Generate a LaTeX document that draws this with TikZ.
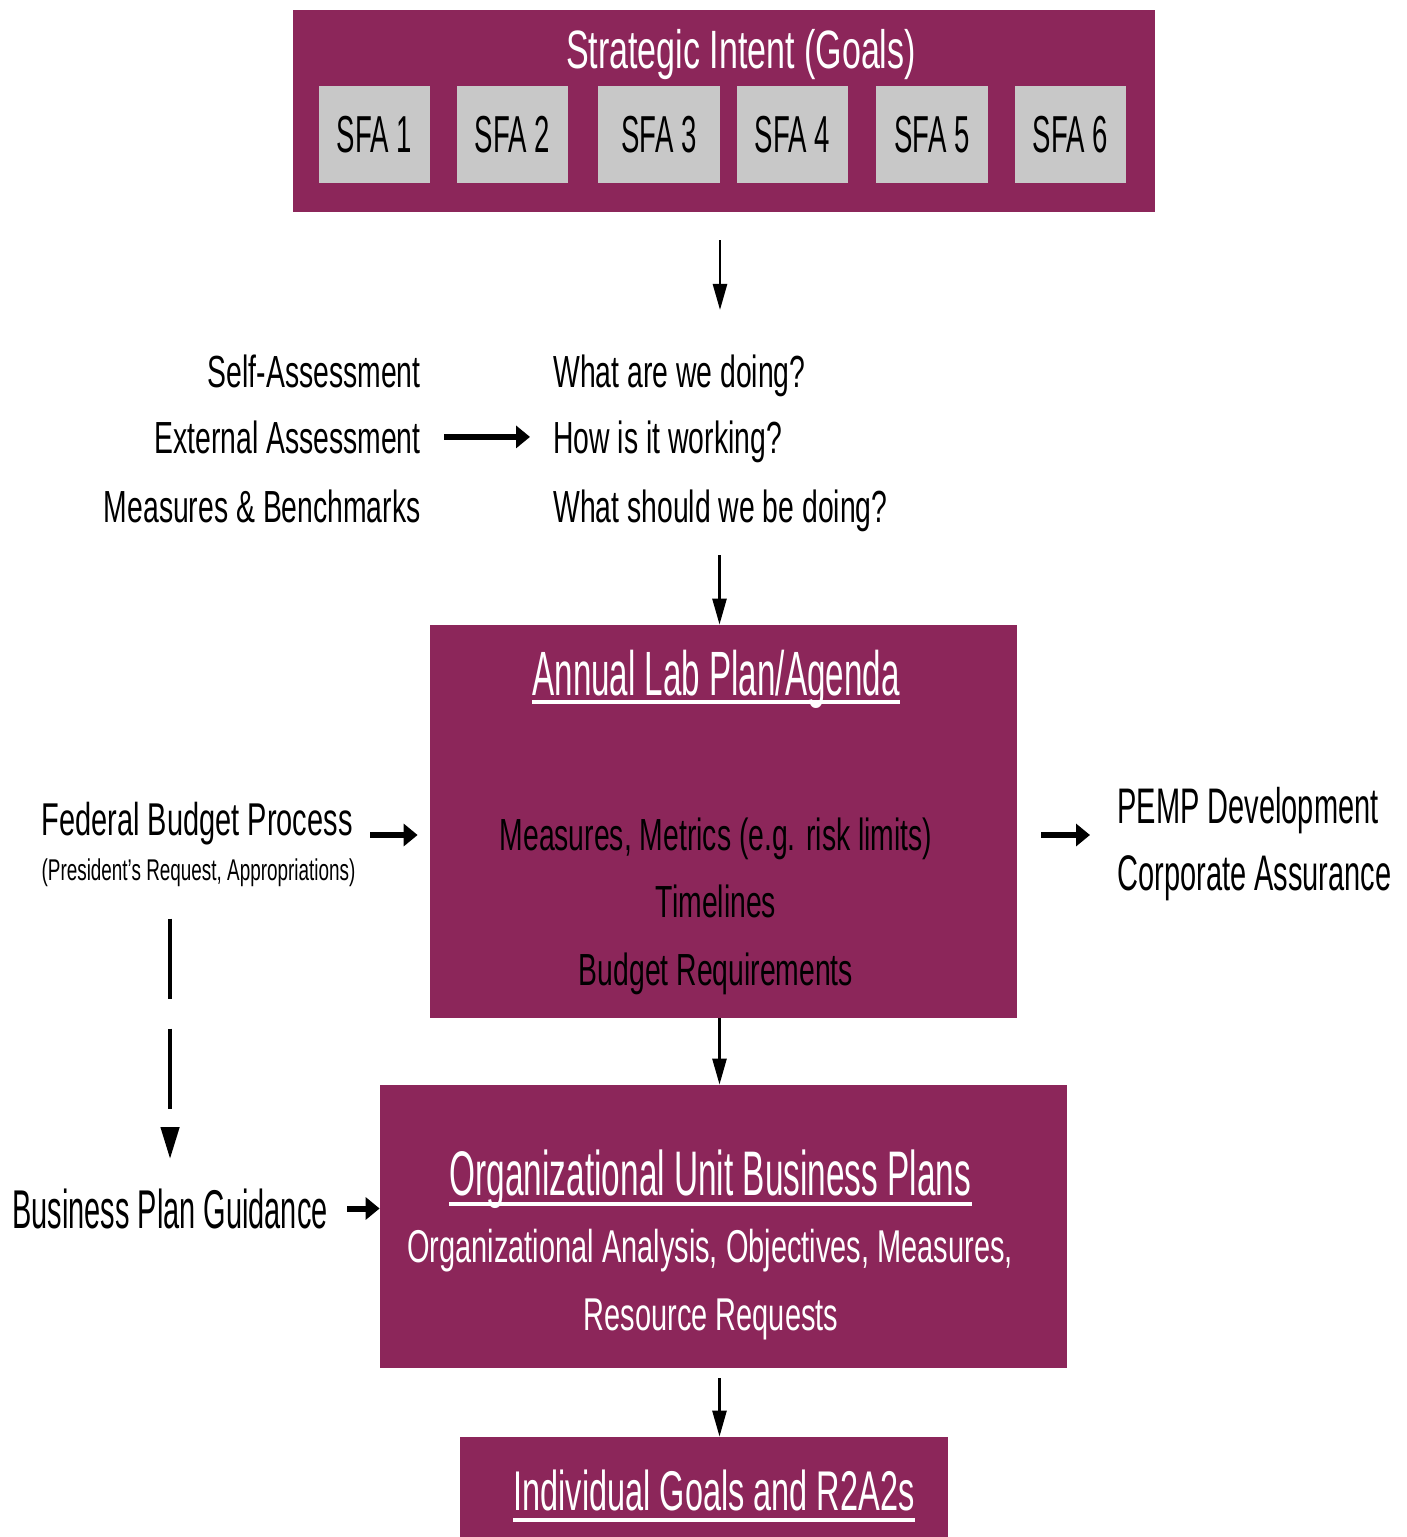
\documentclass[tikz,border=0pt]{standalone}
\usepackage{fontspec}
\setmainfont{Liberation Sans}[FakeStretch=0.63]
\newfontfamily\midfont{Liberation Sans}[FakeStretch=0.58]
\newfontfamily\tallfont{Liberation Sans}[FakeStretch=0.53]
\usepackage{tikz}
\usetikzlibrary{arrows.meta}

\definecolor{labplum}{RGB}{140,38,90}
\definecolor{sfagray}{RGB}{200,200,200}

\tikzset{
    planbox/.style={fill=labplum, inner sep=0pt},
    sfabox/.style={fill=sfagray, minimum height=48.5pt, inner sep=0pt, font=\tallfont\fontsize{26}{30}\selectfont},
    txt/.style={inner sep=0pt},
    medtxt/.style={font=\fontsize{22.5}{27}\selectfont},
    thinarrow/.style={line width=1.3pt, -{Triangle[length=13pt,width=7pt]}},
    thickarrow/.style={line width=3pt, -{Triangle[length=7pt,width=11pt]}},
    uline/.style={white, line width=2.2pt}
}

\begin{document}
\begin{tikzpicture}[x=0.5pt, y=-0.5pt]
    \useasboundingbox (0,0) rectangle (1407,1537);

    % strategic intent
    \node[planbox, minimum width=431pt, minimum height=101pt] (sig) at (724,111) {};
    \node[txt, white, font=\fontsize{27}{32}\selectfont, anchor=base] (sigtitle) at (741,68) {Strategic Intent (Goals)};
    \node[sfabox, minimum width=55.5pt] (sfa1) at (374.5,134.5) {SFA 1};
    \node[sfabox, minimum width=55.5pt] (sfa2) at (512.5,134.5) {SFA 2};
    \node[sfabox, minimum width=61pt] (sfa3) at (659,134.5) {SFA 3};
    \node[sfabox, minimum width=55.5pt] (sfa4) at (792.5,134.5) {SFA 4};
    \node[sfabox, minimum width=56pt] (sfa5) at (932,134.5) {SFA 5};
    \node[sfabox, minimum width=55.5pt] (sfa6) at (1070.5,134.5) {SFA 6};

    % assessment and questions
    \node[txt, medtxt, anchor=base east] (self) at (421,387) {Self-Assessment};
    \node[txt, medtxt, anchor=base east] (ext) at (421,453) {External Assessment};
    \node[txt, medtxt, anchor=base east] (bench) at (421,522) {Measures \& Benchmarks};
    \node[txt, medtxt, anchor=base west] (what) at (553,387) {What are we doing?};
    \node[txt, medtxt, anchor=base west] (how) at (553,453) {How is it working?};
    \node[txt, medtxt, anchor=base west] (should) at (553,522) {What should we be doing?};

    % annual lab plan
    \node[planbox, minimum width=293.5pt, minimum height=196.5pt] (alp) at (723.5,821.5) {};
    \node[txt, white, font=\tallfont\fontsize{31.3}{36}\selectfont, anchor=base] (alptitle) at (716,695) {Annual Lab Plan/Agenda};
    \draw[uline] ([yshift=-3.5pt]alptitle.base west) -- ([yshift=-3.5pt]alptitle.base east);
    \node[txt, medtxt, anchor=base] (metrics) at (716,850) {Measures, Metrics (e.g. risk limits)};
    \node[txt, medtxt, anchor=base] (timelines) at (716,917) {Timelines};
    \node[txt, medtxt, anchor=base] (budgetreq) at (716,985) {Budget Requirements};

    % budget side
    \node[txt, font=\fontsize{23}{27}\selectfont, anchor=base east] (fbp) at (353,835) {Federal Budget Process};
    \node[txt, font=\fontsize{15}{18}\selectfont, anchor=base] (sub) at (198.5,880) {(President’s Request, Appropriations)};
    \node[txt, font=\tallfont\fontsize{27.3}{30}\selectfont, anchor=base west] (bpg) at (12,1228) {Business Plan Guidance};

    % pemp side
    \node[txt, font=\midfont\fontsize{25}{30}\selectfont, anchor=base west] (pemp) at (1117,823) {PEMP Development};
    \node[txt, font=\midfont\fontsize{25}{30}\selectfont, anchor=base west] (corp) at (1117,890) {Corporate Assurance};

    % business plans
    \node[planbox, minimum width=343.5pt, minimum height=141.5pt] (oub) at (723.5,1226.5) {};
    \node[txt, white, font=\tallfont\fontsize{31.5}{36}\selectfont, anchor=base] (oubtitle) at (710.5,1195) {Organizational Unit Business Plans};
    \draw[uline] ([yshift=-4.5pt]oubtitle.base west) -- ([yshift=-4.5pt]oubtitle.base east);
    \node[txt, white, font=\fontsize{23}{27}\selectfont, anchor=base] (analysis) at (710,1262) {Organizational Analysis, Objectives, Measures,};
    \node[txt, white, font=\fontsize{23}{27}\selectfont, anchor=base] (requests) at (711,1330) {Resource Requests};

    % individual goals
    \node[planbox, minimum width=244pt, minimum height=50pt] (igr) at (704,1487) {};
    \node[txt, white, font=\midfont\fontsize{28}{32}\selectfont, anchor=base] (igrtitle) at (714,1510) {Individual Goals and R2A2s};
    \draw[uline] ([yshift=-5pt]igrtitle.base west) -- ([yshift=-5pt]igrtitle.base east);

    % connectors
    \draw[thinarrow, shorten <=14pt, shorten >=22pt] ([xshift=-2pt]sig.south) -- ([xshift=-2pt]sig.south |- what.north);
    \draw[thickarrow, shorten <=11.5pt, shorten >=11.5pt] (ext.east) -- (ext.east -| how.west);
    \draw[thinarrow, shorten <=11.75pt] ([xshift=-2pt]alp.north |- should.south) -- ([xshift=-2pt]alp.north);
    \draw[thickarrow, shorten <=8.5pt, shorten >=6pt] (fbp.base east) -- (fbp.base east -| alp.west);
    \draw[thickarrow, shorten <=12pt, shorten >=13.5pt] (alp.east |- fbp.base) -- (pemp.west |- fbp.base);
    \draw[line width=2.25pt, dash pattern=on 40pt off 15pt, -{Triangle[length=16pt,width=9pt]}, shorten <=16pt, shorten >=14.5pt] (bpg.north |- sub.south) -- (bpg.north);
    \draw[thickarrow, shorten <=9.5pt] (bpg.east) -- (bpg.east -| oub.west);
    \draw[thinarrow] ([xshift=-2pt]alp.south) -- ([xshift=-2pt]alp.south |- oub.north);
    \draw[thinarrow, shorten <=5pt] ([xshift=-2pt]oub.south) -- ([xshift=-2pt]oub.south |- igr.north);
\end{tikzpicture}
\end{document}
